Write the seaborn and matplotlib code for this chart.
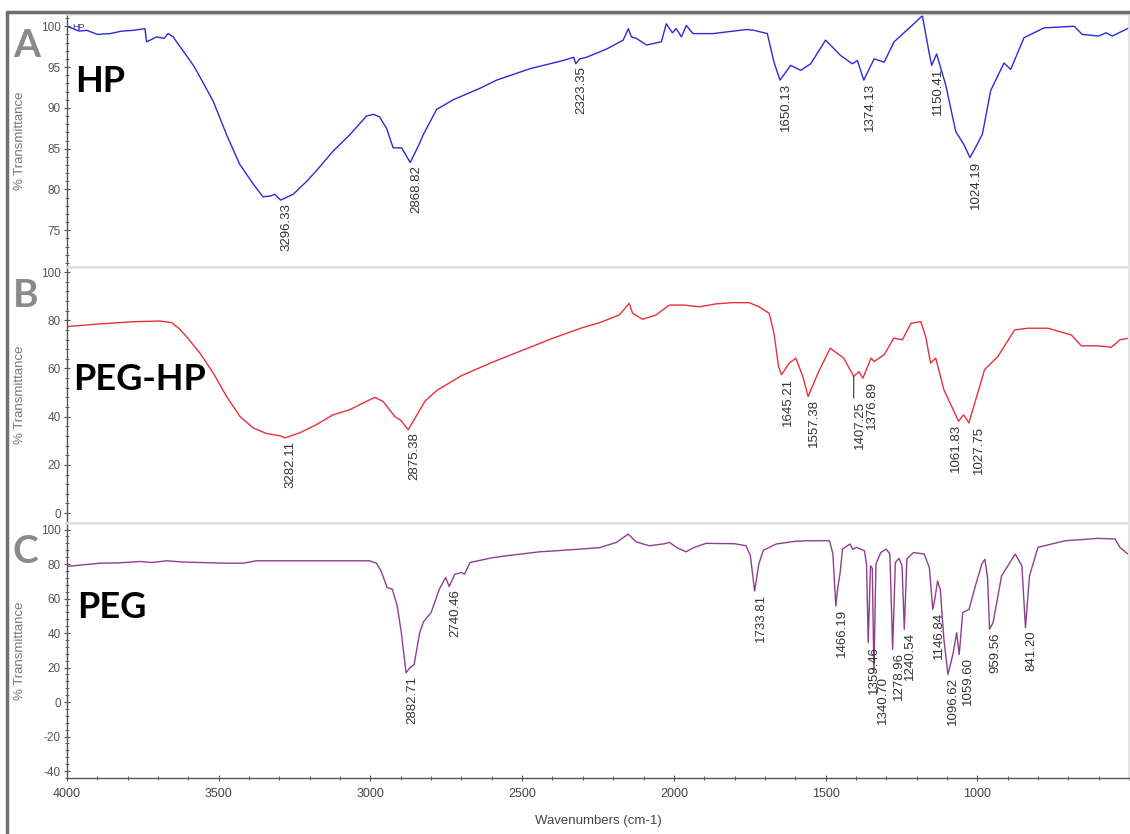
import matplotlib
matplotlib.use("Agg")
import matplotlib.pyplot as plt
from matplotlib.lines import Line2D
from matplotlib.ticker import MultipleLocator, FixedLocator
import pandas as pd
import seaborn as sns

# ---- spectra (wavenumber cm-1, % transmittance) ----
HP_WN = [4000, 3960, 3935, 3900, 3858, 3820, 3781, 3743, 3738, 3720, 3705, 3680,
         3667, 3650, 3639, 3606, 3580, 3562, 3540, 3518, 3474, 3431, 3387, 3354,
         3330, 3315, 3296.33, 3255, 3210, 3178, 3123, 3068, 3013, 2990, 2970, 2947,
         2925, 2897, 2868.82, 2840, 2826, 2782, 2727, 2639, 2584, 2474, 2365, 2330,
         2323.35, 2310, 2288, 2222, 2167, 2150, 2140, 2123, 2090, 2041, 2025, 2005,
         1992, 1975, 1959, 1937, 1871, 1761, 1736, 1692, 1670, 1650.13, 1615, 1582,
         1549, 1500, 1450, 1412, 1395, 1374.13, 1340, 1307, 1274, 1209, 1181, 1159,
         1150.41, 1134, 1104, 1071, 1044, 1024.19, 1005, 983, 956, 912, 890, 846,
         780, 681, 654, 600, 575, 555, 500]
HP_T = [100.0, 99.4, 99.5, 99.0, 99.1, 99.4, 99.5, 99.7, 98.1, 98.4, 98.7, 98.5,
        99.1, 98.7, 98.1, 96.4, 95.0, 93.8, 92.3, 90.8, 86.7, 83.1, 80.7, 79.1,
        79.2, 79.4, 78.7, 79.4, 81.0, 82.3, 84.7, 86.7, 89.0, 89.2, 88.9, 87.5,
        85.1, 85.1, 83.3, 85.5, 86.7, 89.8, 91.0, 92.4, 93.4, 94.8, 95.8, 96.2,
        95.4, 96.0, 96.2, 97.2, 98.3, 99.7, 98.7, 98.5, 97.7, 98.1, 100.3, 99.2,
        99.7, 98.7, 100.1, 99.1, 99.1, 99.6, 99.5, 99.1, 95.6, 93.4, 95.2, 94.6,
        95.4, 98.3, 96.4, 95.4, 95.8, 93.4, 96.0, 95.6, 98.1, 100.3, 101.3, 96.8,
        95.2, 96.6, 92.8, 87.1, 85.5, 83.9, 85.2, 86.8, 92.1, 95.5, 94.7, 98.6,
        99.8, 100.0, 99.0, 98.8, 99.2, 98.8, 99.8]
HP_PEAKS = [3296.33, 2868.82, 2323.35, 1650.13, 1374.13, 1150.41, 1024.19]

PEGHP_WN = [4000, 3940, 3891, 3830, 3782, 3720, 3694, 3655, 3630, 3606, 3562, 3518,
            3474, 3430, 3386, 3342, 3298, 3282.11, 3233, 3178, 3123, 3068, 3024,
            2986, 2958, 2920, 2900, 2875.38, 2850, 2820, 2780, 2700, 2600, 2500,
            2400, 2300, 2245, 2180, 2147, 2136, 2103, 2059, 2015, 1966, 1916, 1861,
            1807, 1752, 1719, 1686, 1670, 1655, 1645.21, 1620, 1598, 1575, 1557.38,
            1525, 1485, 1440, 1407.25, 1390, 1376.89, 1350, 1340, 1307, 1275, 1247,
            1218, 1186, 1170, 1154, 1137, 1110, 1061.83, 1045, 1027.75, 976, 932,
            877, 833, 767, 690, 657, 602, 558, 530, 505]
PEGHP_T = [77.4, 78.0, 78.5, 79.0, 79.4, 79.6, 79.7, 79.0, 76.5, 73.2, 66.4, 58.1,
           48.4, 40.1, 35.3, 33.0, 32.1, 31.2, 33.3, 36.7, 40.8, 42.9, 45.7,
           48.0, 46.3, 40.1, 38.5, 34.6, 40.0, 46.5, 51.0, 57.0, 62.5, 67.5,
           72.5, 77.0, 79.0, 82.2, 87.0, 82.9, 80.4, 82.2, 86.3, 86.3, 85.6, 86.8,
           87.3, 87.3, 85.6, 82.9, 74.6, 60.8, 57.4, 62.2, 64.3, 56.7, 48.4,
           58.1, 68.4, 64.3, 56.7, 58.7, 56.0, 64.3, 62.9, 65.7, 72.6, 71.9,
           78.8, 79.4, 73.2, 62.2, 64.3, 51.2, 38.1, 40.8, 37.4, 59.5, 65.0,
           76.0, 76.7, 76.7, 73.9, 69.4, 69.4, 68.8, 71.9, 72.5]
PEGHP_PEAKS = [3282.11, 2875.38, 1645.21, 1557.38, 1407.25, 1376.89, 1061.83, 1027.75]

PEG_WN = [4000, 3950, 3891, 3830, 3760, 3720, 3672, 3620, 3562, 3480, 3420, 3376,
          3250, 3100, 3003, 2980, 2965, 2945, 2928, 2912, 2898, 2882.71, 2870, 2856,
          2838, 2825, 2800, 2773, 2752, 2740.46, 2722, 2700, 2690, 2672, 2600, 2552,
          2442, 2345, 2245, 2190, 2150, 2125, 2081, 2030, 2015, 1990, 1960, 1935,
          1894, 1800, 1762, 1748, 1733.81, 1720, 1705, 1663, 1600, 1564, 1487, 1476,
          1466.19, 1460, 1452, 1444, 1420, 1410, 1398, 1372, 1365, 1359.46, 1352,
          1346, 1340.70, 1334, 1318, 1300, 1288, 1278.96, 1270, 1258, 1248, 1240.54,
          1232, 1210, 1175, 1158, 1146.84, 1140, 1131, 1122, 1110, 1096.62, 1080,
          1068, 1059.60, 1048, 1027, 1007, 985, 975, 966, 959.56, 948, 920, 875,
          853, 841.20, 828, 800, 711, 601, 546, 530, 505]
PEG_T = [78.6, 79.5, 80.5, 80.7, 81.5, 80.9, 81.9, 81.2, 80.9, 80.5, 80.5, 81.9,
         81.9, 81.9, 81.9, 80.5, 76.0, 66.4, 65.4, 56.0, 40.0, 17.0, 19.9, 21.8,
         40.0, 46.5, 51.9, 65.4, 72.2, 67.0, 74.1, 75.1, 74.1, 80.9, 83.6, 84.8,
         87.1, 88.2, 89.5, 92.5, 97.4, 92.9, 90.6, 91.8, 92.6, 89.5, 87.1, 89.5,
         92.0, 91.8, 90.6, 85.0, 64.4, 80.0, 88.0, 91.6, 93.2, 93.5, 93.5, 86.0,
         55.7, 66.0, 75.0, 88.7, 91.6, 88.5, 89.7, 87.7, 80.0, 34.4, 79.0,
         77.5, 17.0, 80.0, 86.7, 88.7, 85.8, 30.5, 80.9, 83.3, 79.0, 42.2,
         83.0, 86.7, 85.8, 78.0, 53.8, 59.6, 70.2, 65.4, 36.3, 16.0, 28.0,
         40.2, 27.6, 51.9, 53.8, 67.0, 80.0, 82.8, 72.0, 42.2, 46.0, 73.1, 85.8,
         79.0, 43.1, 73.1, 89.7, 93.5, 94.9, 94.5, 89.7, 86.0]
PEG_PEAKS = [2882.71, 2740.46, 1733.81, 1466.19, 1359.46, 1340.70, 1278.96,
             1240.54, 1146.84, 1096.62, 1059.60, 959.56, 841.20]

PANEL_LETTERS = ["A", "B", "C"]
SAMPLE_NAMES = ["HP", "PEG-HP", "PEG"]
COLORS = ["#2b2bd6", "#e8303c", "#8e3e8e"]
X_TICKS = [4000, 3500, 3000, 2500, 2000, 1500, 1000]

W, H = 1130, 834
NARROW = ["Liberation Sans Narrow", "Liberation Sans", "DejaVu Sans"]
ARIAL = ["Liberation Sans", "DejaVu Sans"]


def px_rect(top, bottom, left=67, right=1129):
    return [left / W, 1 - bottom / H, (right - left) / W, (bottom - top) / H]


def plot_panel(ax, wn, t, color, peaks, ylim, yticks, yminor, leaders=None, nudges=None):
    df = pd.DataFrame({"wn": wn, "t": t})
    sns.lineplot(data=df, x="wn", y="t", ax=ax, color=color, linewidth=1.0,
                 estimator=None)
    ax.set_xlim(4000, 500)
    ax.set_ylim(*ylim)
    ax.yaxis.set_major_locator(FixedLocator(yticks))
    ax.yaxis.set_minor_locator(MultipleLocator(yminor))
    ax.tick_params(axis="y", which="major", left=True, direction="inout",
                   length=5, width=0.8, color="#555555", labelsize=8.5,
                   labelcolor="#555555", pad=2)
    ax.tick_params(axis="y", which="minor", left=True, direction="inout",
                   length=2.5, width=0.7, color="#666666")
    for lab in ax.get_yticklabels():
        lab.set_family(NARROW)
    for side in ["top", "right", "bottom"]:
        ax.spines[side].set_color("#e2e2e2")
        ax.spines[side].set_linewidth(1.8)
    ax.spines["left"].set_color("#555555")
    ax.spines["left"].set_linewidth(1.0)
    ax.set_xlabel("")
    ax.set_ylabel("% Transmittance", fontsize=9.5, color="#777777", family=ARIAL)
    ax.yaxis.set_label_coords((26 - 67) / 1062, 0.5)

    leaders = leaders or {}
    nudges = nudges or {}
    for p in peaks:
        val = t[wn.index(p)]
        drop = leaders.get(p, 0)
        dx = nudges.get(p, 0)
        props = None
        if drop:
            props = dict(arrowstyle="-", color="#333333", lw=0.8, relpos=(0, 1),
                         shrinkA=0, shrinkB=0)
        ax.annotate(f"{p:.2f}", xy=(p, val), xytext=(dx, -2 - drop),
                    textcoords="offset points", rotation=90, ha="left", va="top",
                    fontsize=9.5, color="#333333", family=ARIAL,
                    arrowprops=props)


sns.set_theme(style="white")
plt.rcParams["font.family"] = NARROW
plt.rcParams["axes.unicode_minus"] = False

fig = plt.figure(figsize=(W / 100, H / 100), dpi=100)
ax_a = fig.add_axes(px_rect(14, 267))
ax_b = fig.add_axes(px_rect(267, 523))
ax_c = fig.add_axes(px_rect(523, 778))

plot_panel(ax_a, HP_WN, HP_T, COLORS[0], HP_PEAKS, (70.5, 101.5),
           [75, 80, 85, 90, 95, 100], 1)
plot_panel(ax_b, PEGHP_WN, PEGHP_T, COLORS[1], PEGHP_PEAKS, (-4.1, 102.1),
           [0, 20, 40, 60, 80, 100], 4, leaders={1407.25: 16},
           nudges={1376.89: 2, 1061.83: -6, 1027.75: 3})
plot_panel(ax_c, PEG_WN, PEG_T, COLORS[2], PEG_PEAKS, (-44, 103.8),
           [-40, -20, 0, 20, 40, 60, 80, 100], 4,
           nudges={1340.70: 2, 1096.62: -1, 1059.60: 2})

for ax in (ax_a, ax_b):
    ax.tick_params(axis="x", bottom=False, labelbottom=False)

ax_c.spines["bottom"].set_color("#555555")
ax_c.spines["bottom"].set_linewidth(1.0)
ax_c.xaxis.set_major_locator(FixedLocator(X_TICKS))
ax_c.xaxis.set_minor_locator(MultipleLocator(100))
ax_c.tick_params(axis="x", which="major", bottom=True, direction="inout",
                 length=5, width=0.8, color="#555555", labelsize=9,
                 labelcolor="#444444", pad=5)
ax_c.tick_params(axis="x", which="minor", bottom=True, direction="inout",
                 length=3, width=0.7, color="#666666")
ax_c.set_xlabel("Wavenumbers (cm-1)", fontsize=9.5, color="#444444")
ax_c.xaxis.set_label_coords(0.5, -(815 - 778) / 255)

# panel letters and sample names
letter_base = [57, 307, 563]
name_base = [92, 390, 618]
name_x = [75, 73, 77]
for i in range(3):
    fig.text(13 / W, 1 - letter_base[i] / H, PANEL_LETTERS[i], fontsize=28,
             fontweight="bold", color="#8a8a8a", family=["Lato", "DejaVu Sans"],
             ha="left", va="baseline")
    fig.text(name_x[i] / W, 1 - name_base[i] / H, SAMPLE_NAMES[i], fontsize=26,
             fontweight="bold", color="black", family=["Lato", "DejaVu Sans"],
             ha="left", va="baseline")

# tiny series tag left by the spectrometer software
fig.text(72 / W, 1 - 27 / H, "HP", fontsize=6.5, color="#333399", family=ARIAL,
         ha="left", va="center")

# outer frame (top and left edges)
fig.add_artist(Line2D([7 / W, 1], [1 - 12 / H, 1 - 12 / H], transform=fig.transFigure,
                      color="#6e6e6e", lw=2.5))
fig.add_artist(Line2D([7 / W, 7 / W], [0, 1 - 12 / H], transform=fig.transFigure,
                      color="#6e6e6e", lw=2.5))

fig.savefig("out.png", dpi=100)
